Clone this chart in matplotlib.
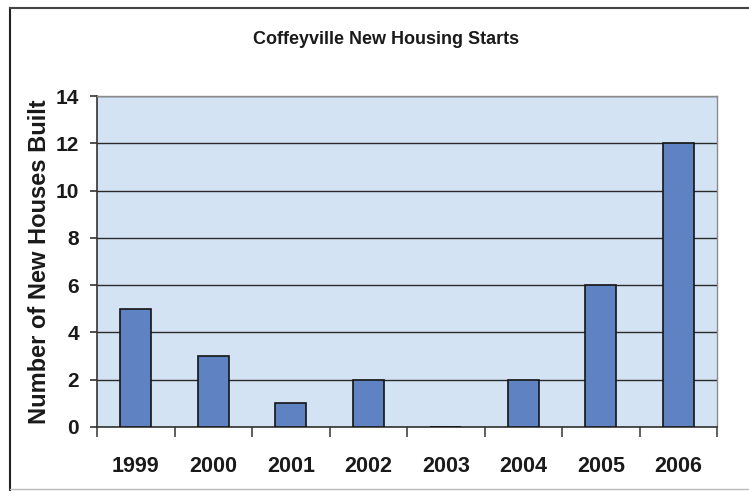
import matplotlib
matplotlib.use("Agg")
import matplotlib.pyplot as plt
from matplotlib.lines import Line2D
import numpy as np

# Annual new housing starts
years = ["1999", "2000", "2001", "2002", "2003", "2004", "2005", "2006"]
houses_built = [5, 3, 1, 2, 0, 2, 6, 12]
y_ticks = [0, 2, 4, 6, 8, 10, 12, 14]

W, H = 749, 491
fig = plt.figure(figsize=(W / 100, H / 100), dpi=100)
fig.patch.set_facecolor("white")

# Plot area in pixel terms
left, right, top, bottom = 97, 717, 96, 427
ax = fig.add_axes([left / W, 1 - bottom / H, (right - left) / W, (bottom - top) / H])
ax.set_facecolor("#d3e3f3")

x = np.arange(len(years))
ax.set_axisbelow(True)
ax.yaxis.grid(True, color="#2a2a2a", linewidth=1.0)
ax.bar(x, houses_built, width=0.4, color="#5e82c2", edgecolor="#151515",
       linewidth=1.2, zorder=3)

ax.set_xlim(-0.5, len(years) - 0.5)
ax.set_ylim(0, 14)
ax.set_yticks(y_ticks)
ax.set_yticklabels([str(v) for v in y_ticks], fontsize=15, fontweight="bold",
                   family="Liberation Sans", color="#1a1a1a")
ax.set_xticks(x)
ax.set_xticklabels(years, fontsize=15.5, fontweight="bold",
                   family="Liberation Sans", color="#1a1a1a")
ax.tick_params(axis="x", which="major", length=0, pad=21)
ax.set_xticks(np.arange(-0.5, len(years)), minor=True)
ax.tick_params(axis="x", which="minor", length=7, width=1.2, color="#444444",
               direction="out")
ax.tick_params(axis="y", length=5, width=1.2, color="#333333", pad=8)

for side in ["top", "right"]:
    ax.spines[side].set_color("#8a8a8a")
    ax.spines[side].set_linewidth(1.0)
for side in ["left", "bottom"]:
    ax.spines[side].set_color("#333333")
    ax.spines[side].set_linewidth(1.2)

ax.set_ylabel("Number of New Houses Built", fontsize=17, fontweight="bold",
              family="Liberation Sans", color="#1a1a1a", labelpad=3)

fig.text(386 / W, 1 - 39 / H, "Coffeyville New Housing Starts", ha="center",
         va="center", fontsize=13, fontweight="bold", family="Liberation Sans",
         color="#1a1a1a")

# Surrounding frame
fig.add_artist(Line2D([10 / W, 10 / W], [1 - 8 / H, 1 - 490 / H],
                      transform=fig.transFigure, color="#222222", linewidth=1.5))
fig.add_artist(Line2D([10 / W, 1.0], [1 - 8 / H, 1 - 8 / H],
                      transform=fig.transFigure, color="#444444", linewidth=1.5))
fig.add_artist(Line2D([10 / W, 1.0], [1 - 489 / H, 1 - 489 / H],
                      transform=fig.transFigure, color="#bbbbbb", linewidth=1.0))

fig.savefig("out.png", dpi=100)
